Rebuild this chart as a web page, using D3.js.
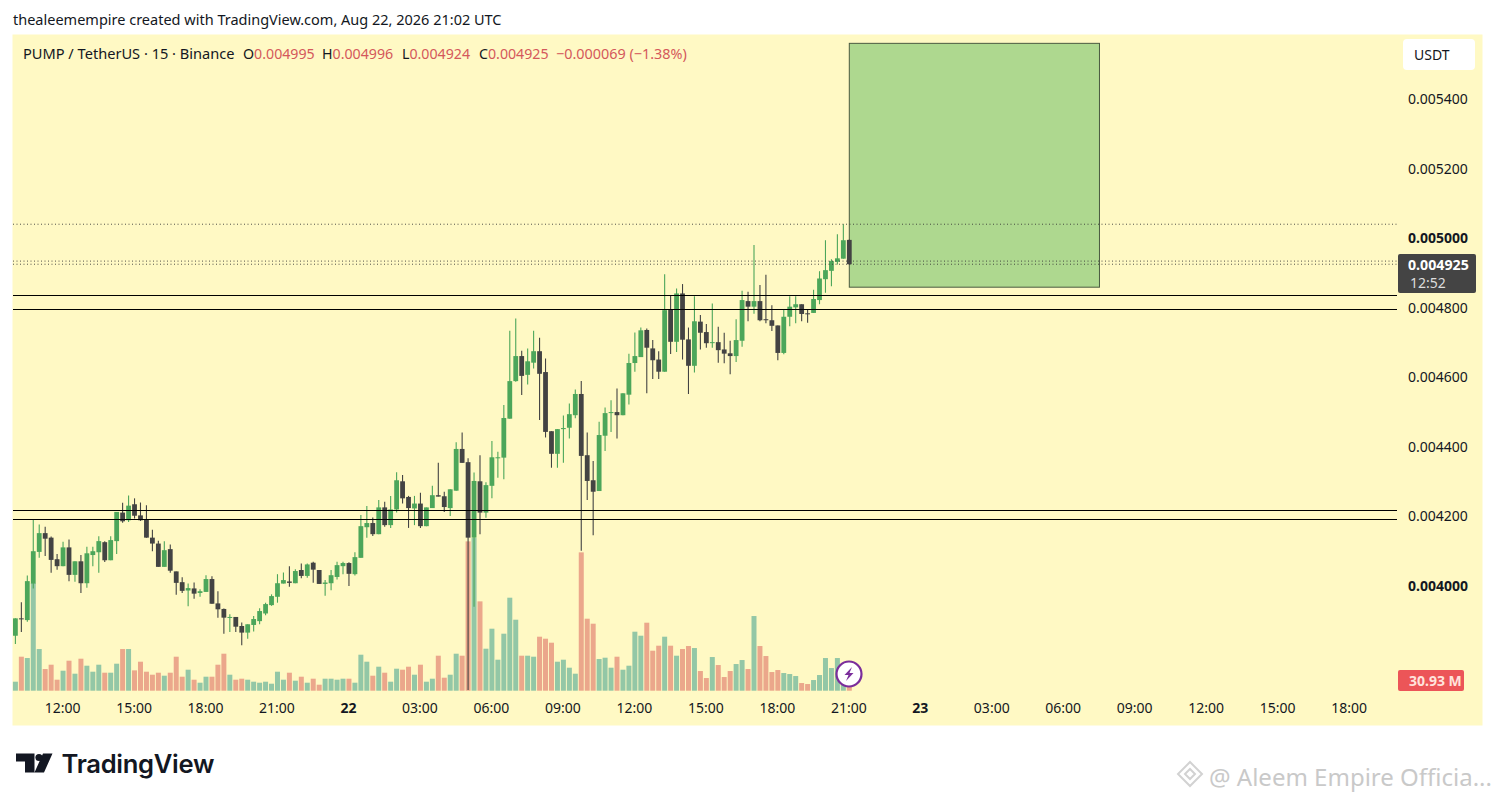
<!DOCTYPE html>
<html><head><meta charset="utf-8">
<script src="https://cdn.jsdelivr.net/npm/d3@7/dist/d3.min.js"></script>
<style>html,body{margin:0;padding:0;background:#fff;overflow:hidden}svg{display:block}text{font-family:"Noto Sans",sans-serif}</style>
</head><body><svg id="c" width="1495" height="801"></svg>
<script>
// prices in millionths of USDT, volumes in millions, one bar each 15 minutes from Aug 21 10:00 UTC
const opens=[3857,3907,3902,4007,4098,4152,4139,4077,4057,4111,4032,4071,4008,4089,4097,4126,4074,4129,4211,4189,4235,4203,4190,4139,4122,4055,4106,4042,4011,3987,3993,3980,3983,4020,3950,3934,3910,3911,3885,3866,3888,3899,3921,3945,3969,4007,4013,4008,4046,4029,4067,4046,4006,4008,4026,4057,4066,4034,4081,4169,4181,4149,4226,4175,4220,4301,4256,4223,4237,4172,4224,4261,4258,4224,4274,4394,4356,4139,4301,4211,4288,4368,4369,4481,4589,4661,4607,4642,4675,4615,4445,4380,4451,4455,4491,4552,4376,4304,4273,4432,4497,4500,4491,4550,4641,4658,4736,4683,4651,4616,4795,4702,4841,4709,4633,4760,4730,4699,4701,4680,4669,4661,4705,4819,4803,4819,4767,4764,4749,4670,4774,4801,4810,4784,4785,4822,4882,4906,4932,4941,4995];
const highs=[3907,3953,4030,4191,4177,4170,4142,4092,4127,4134,4071,4089,4113,4113,4143,4129,4143,4213,4239,4260,4252,4240,4232,4162,4130,4129,4119,4042,4025,4007,4010,3991,4031,4028,3985,3935,3919,3911,3895,3890,3914,3936,3952,3976,4034,4039,4057,4048,4065,4065,4070,4046,4017,4046,4070,4070,4068,4097,4204,4230,4197,4247,4242,4259,4327,4319,4259,4259,4268,4226,4288,4354,4271,4278,4413,4441,4367,4326,4376,4298,4417,4386,4520,4734,4769,4676,4683,4734,4714,4654,4445,4451,4490,4525,4565,4589,4441,4359,4472,4513,4534,4568,4554,4668,4729,4743,4740,4707,4675,4896,4836,4855,4868,4743,4833,4779,4753,4812,4745,4728,4705,4767,4849,4846,4980,4865,4895,4807,4749,4795,4833,4833,4810,4795,4852,4905,4994,4939,5011,5040,4996];
const lows=[3833,3868,3897,3993,4081,4086,4038,4047,4057,4014,4012,3980,3995,4057,4038,4069,4074,4092,4182,4184,4194,4187,4139,4100,4055,4055,4038,3975,3980,3942,3963,3969,3983,3949,3909,3863,3868,3868,3830,3848,3869,3890,3916,3943,3952,4007,3998,4008,4022,4024,4009,4006,3972,3988,4019,4034,4000,4030,4081,4139,4144,4149,4170,4167,4211,4237,4167,4175,4167,4172,4224,4257,4213,4201,4274,4354,3701,3940,4149,4196,4252,4311,4307,4481,4587,4549,4579,4625,4477,4427,4340,4340,4354,4424,4482,4101,4247,4146,4273,4388,4443,4424,4491,4522,4616,4658,4554,4595,4595,4616,4667,4673,4651,4552,4614,4680,4685,4685,4642,4640,4609,4644,4688,4761,4783,4761,4755,4733,4649,4666,4747,4755,4761,4757,4785,4810,4843,4862,4924,4941,4924];
const closes=[3907,3906,4014,4100,4152,4136,4075,4057,4111,4032,4071,4008,4094,4100,4129,4074,4132,4213,4186,4231,4202,4189,4139,4122,4055,4103,4044,4009,3986,3994,3978,3985,4020,3949,3933,3909,3911,3883,3866,3890,3905,3928,3948,3971,4008,4017,4009,4043,4029,4062,4047,4006,4010,4031,4060,4066,4035,4083,4172,4181,4149,4226,4175,4220,4304,4252,4224,4237,4172,4226,4261,4257,4227,4278,4394,4354,4139,4302,4211,4290,4370,4370,4483,4589,4661,4604,4646,4675,4610,4443,4380,4451,4454,4494,4552,4374,4302,4271,4434,4497,4500,4491,4554,4641,4661,4735,4685,4649,4616,4793,4702,4841,4708,4633,4761,4728,4698,4701,4678,4668,4661,4707,4822,4803,4819,4764,4764,4748,4670,4774,4803,4810,4782,4781,4825,4884,4908,4934,4942,4994,4925];
const volumes=[27,102,98,323,125,65,78,33,60,90,51,96,75,57,78,54,54,81,125,125,61,87,57,48,54,45,54,102,42,63,33,24,42,42,78,111,48,33,36,33,27,24,27,21,57,33,54,30,42,24,36,18,36,36,33,36,36,24,108,87,45,72,54,27,66,63,72,48,78,27,36,105,39,48,111,105,448,458,268,126,186,93,171,279,213,105,105,102,162,156,144,87,93,69,51,415,216,201,95,99,69,102,63,75,177,165,204,120,135,162,135,105,125,134,128,59,38,101,77,41,59,80,92,65,224,134,104,56,62,53,50,44,23,20,32,47,98,68,98,60,30.93];
const priceTicks=[5400,5200,5000,4800,4600,4400,4200,4000];
const boldPrices=[5000,4000];
const timeTicks=["2026-08-21T12:00Z","2026-08-21T15:00Z","2026-08-21T18:00Z","2026-08-21T21:00Z","2026-08-22T00:00Z","2026-08-22T03:00Z","2026-08-22T06:00Z","2026-08-22T09:00Z","2026-08-22T12:00Z","2026-08-22T15:00Z","2026-08-22T18:00Z","2026-08-22T21:00Z","2026-08-23T00:00Z","2026-08-23T03:00Z","2026-08-23T06:00Z","2026-08-23T09:00Z","2026-08-23T12:00Z","2026-08-23T15:00Z","2026-08-23T18:00Z"];
const solidLevels=[4836,4796,4218,4192];
const dottedLevels=[5040,4934,4925];
const targetBox={start:"2026-08-22T21:00Z",end:"2026-08-23T07:30Z",top:5560,bottom:4859};
const legendItems=[["O","0.004995"],["H","0.004996"],["L","0.004924"],["C","0.004925"]];

const C={bg:"#FFF9C4",up:"#4CA65A",down:"#434343",volUp:"#93C7A6",volDown:"#EBA78B",box:"#AED88F",line:"#000",text:"#131722",red:"#D4585B"};
const svg=d3.select("#c");
const T0=Date.UTC(2026,7,21,10,0), STEP=9e5;
const bars=opens.map((o,i)=>({t:new Date(T0+i*STEP),o,h:highs[i],l:lows[i],c:closes[i],v:volumes[i],up:closes[i]>=o}));

const x=d3.scaleUtc().domain([bars[0].t,bars[bars.length-1].t]).range([15.4,849.3]);
const y=d3.scaleLinear().domain([4000,5400]).range([586,99]);
const yV=d3.scaleLinear().domain([0,450]).range([690.7,540.7]);
const L=13,R=1397;

svg.append("rect").attr("x",12.5).attr("y",34.5).attr("width",1470).attr("height",691).attr("fill",C.bg);
svg.append("text").attr("x",13).attr("y",24.5).attr("font-size",14.5).attr("fill",C.text).text("thealeemempire created with TradingView.com, Aug 22, 2026 21:02 UTC");

// volume
svg.append("g").selectAll("rect").data(bars).join("rect")
 .attr("x",d=>x(d.t)-2.5).attr("width",5).attr("y",d=>yV(d.v)).attr("height",d=>yV(0)-yV(d.v))
 .attr("fill",d=>d.up?C.volUp:C.volDown);

// target box
svg.append("rect").attr("x",x(new Date(targetBox.start))).attr("width",x(new Date(targetBox.end))-x(new Date(targetBox.start)))
 .attr("y",y(targetBox.top)).attr("height",y(targetBox.bottom)-y(targetBox.top))
 .attr("fill",C.box).attr("stroke","#4a5a40").attr("stroke-width",1);

// candles
const g=svg.append("g");
g.selectAll("line").data(bars).join("line")
 .attr("x1",d=>x(d.t)).attr("x2",d=>x(d.t)).attr("y1",d=>y(d.h)).attr("y2",d=>y(d.l))
 .attr("stroke",d=>d.up?C.up:C.down).attr("stroke-width",1.1);
g.selectAll("rect").data(bars).join("rect")
 .attr("x",d=>x(d.t)-2.4).attr("width",4.8)
 .attr("y",d=>y(Math.max(d.o,d.c))).attr("height",d=>Math.max(1,Math.abs(y(d.o)-y(d.c))))
 .attr("fill",d=>d.up?C.up:C.down);

// levels
svg.append("g").attr("shape-rendering","crispEdges").selectAll("line").data(solidLevels).join("line")
 .attr("x1",L).attr("x2",R).attr("y1",d=>y(d)).attr("y2",d=>y(d)).attr("stroke",C.line).attr("stroke-width",1);
svg.append("g").selectAll("line").data(dottedLevels).join("line")
 .attr("x1",L).attr("x2",R).attr("y1",d=>y(d)).attr("y2",d=>y(d)).attr("stroke","#333").attr("stroke-width",1).attr("stroke-dasharray","1 2.5").attr("opacity",.85);

// axes
const yAxis=d3.axisRight(y).tickValues(priceTicks).tickSize(0).tickPadding(0).tickFormat(v=>(v/1e6).toFixed(6));
const ya=svg.append("g").attr("transform","translate(1408,0)").call(yAxis);
ya.select(".domain").remove();
ya.selectAll("text").attr("font-size",14).attr("fill",C.text).style("font-family",'"Noto Sans",sans-serif')
 .attr("font-weight",d=>boldPrices.includes(d)?700:400);

const fmtT=d=>d.getUTCHours()===0?String(d.getUTCDate()):d3.utcFormat("%H:%M")(d);
const xAxis=d3.axisBottom(x).tickValues(timeTicks.map(s=>new Date(s))).tickSize(0).tickPadding(0).tickFormat(fmtT);
const xa=svg.append("g").attr("transform","translate(-1,703)").call(xAxis);
xa.select(".domain").remove();
xa.selectAll("text").attr("font-size",14).attr("fill",C.text).style("font-family",'"Noto Sans",sans-serif')
 .attr("font-weight",d=>d.getUTCHours()===0?700:400);

// legend
svg.append("text").attr("x",23).attr("y",59).attr("font-size",14.6).attr("fill",C.text).text("PUMP / TetherUS · 15 · Binance");
const legX=[243,322,402,479];
legendItems.forEach(([k,v],i)=>{
 const t=svg.append("text").attr("x",legX[i]).attr("y",59).attr("font-size",14.2);
 t.append("tspan").attr("fill",C.text).text(k);
 t.append("tspan").attr("fill",C.red).text(v);
});
svg.append("text").attr("x",556).attr("y",59).attr("font-size",14.4).attr("fill",C.red).text("−0.000069 (−1.38%)");

// USDT button
svg.append("rect").attr("x",1403).attr("y",39).attr("width",72).attr("height",31).attr("rx",4).attr("fill","#fff");
svg.append("text").attr("x",1414).attr("y",60).attr("font-size",14).attr("fill",C.text).text("USDT");

// last price tag
svg.append("rect").attr("x",1398).attr("y",254).attr("width",78).attr("height",39).attr("rx",2).attr("fill","#444");
svg.append("text").attr("x",1408).attr("y",270).attr("font-size",14.2).attr("font-weight",700).attr("fill","#fff").text("0.004925");
svg.append("text").attr("x",1410).attr("y",288).attr("font-size",14).attr("fill","#ddd").text("12:52");

// volume tag
svg.append("rect").attr("x",1398).attr("y",670).attr("width",66).attr("height",21).attr("rx",2).attr("fill","#EC5558");
svg.append("text").attr("x",1409).attr("y",686).attr("font-size",14).attr("font-weight",700).attr("fill","#FFE3DC").text("30.93 M");

// lightning badge
const bx=849,by=674;
svg.append("circle").attr("cx",bx).attr("cy",by).attr("r",12.5).attr("fill","#fff").attr("stroke","#7B2D9B").attr("stroke-width",2.2);
svg.append("path").attr("transform",`translate(${bx},${by})`).attr("d","M3,-7 L-4.5,1 L-.5,1 L-3,7 L4.5,-1 L.5,-1 Z").attr("fill","#7B2D9B");

// TradingView logo
svg.append("path").attr("fill","#131722").attr("d","M16,753.5 H34.5 V772.5 H25 V761.5 H16 Z M52.5,753.5 L44,772.5 H34.5 L43,753.5 Z");
svg.append("circle").attr("cx",39).attr("cy",757.5).attr("r",3.6).attr("fill","#131722");
svg.append("text").attr("x",61.5).attr("y",772.5).attr("font-size",25.6).attr("font-weight",600).attr("fill","#131722").style("font-family","Inter,sans-serif").style("letter-spacing","-0.3px").text("TradingView");

// watermark
const wm=svg.append("g").attr("fill","none").attr("stroke","#d2d2d2").attr("stroke-width",2);
wm.append("path").attr("d","M1190,762 L1202,774 L1190,786 L1178,774 Z");
wm.append("path").attr("d","M1185,774 L1190,769 L1195,774 L1190,779 Z");
svg.append("text").attr("x",1209).attr("y",786).attr("font-size",24).attr("fill","#c9c9c9").text("@ Aleem Empire Officia...");
</script></body></html>
